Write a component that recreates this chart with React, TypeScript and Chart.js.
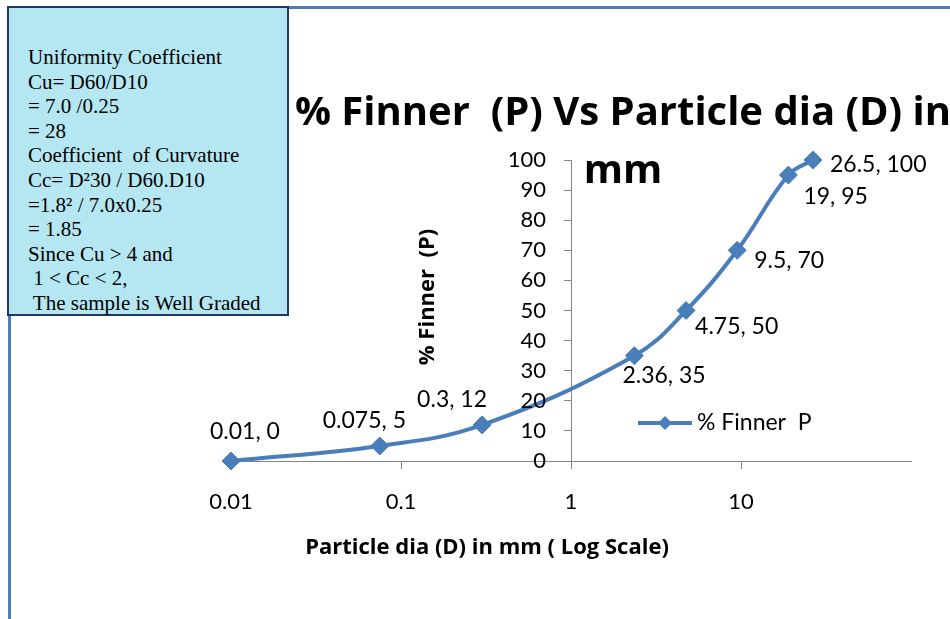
import React, { useEffect, useRef } from "react";
import { Chart, registerables } from "chart.js";

Chart.register(...registerables);

// ---- data ----
const particleDia = [0.01, 0.075, 0.3, 2.36, 4.75, 9.5, 19, 26.5];
const percentFiner = [0, 5, 12, 35, 50, 70, 95, 100];
const xTickValues = [0.01, 0.1, 1, 10];
const yTickStep = 10;
const seriesName = "% Finner  P";
const chartTitleLines = ["% Finner  (P) Vs Particle dia (D) in", "mm"];
const xAxisTitle = "Particle dia (D) in mm ( Log Scale)";
const yAxisTitle = "% Finner  (P)";
const noteLines = [
  "Uniformity Coefficient",
  "Cu= D60/D10",
  "= 7.0 /0.25",
  "= 28",
  "Coefficient  of Curvature",
  "Cc= D\u00b230 / D60.D10",
  "=1.8\u00b2 / 7.0x0.25",
  "= 1.85",
  "Since Cu > 4 and",
  " 1 < Cc < 2,",
  " The sample is Well Graded",
];

// ---- styling ----
const FONT = "Lato, 'Open Sans', sans-serif";
const BOLD_FONT = "'Open Sans', Lato, sans-serif";
const BLUE = "#4a7ebb";
const AXIS_GRAY = "#868686";
// label placement offsets (px) from each point: [dx to left edge, dy to middle]
const labelOffsets = [
  [-21, -29],
  [-57, -25],
  [-65, -25],
  [-12, 20],
  [9, 16],
  [17, 10],
  [15, 22],
  [17, 5],
];

const overlayPlugin = {
  id: "overlay",
  afterDatasetsDraw(chart: any) {
    const ctx = chart.ctx as CanvasRenderingContext2D;
    const meta = chart.getDatasetMeta(0);
    const xs = chart.scales.x;
    const ys = chart.scales.y;
    ctx.save();
    ctx.fillStyle = "#000";
    ctx.textBaseline = "middle";

    // y tick labels (right-aligned, left of the crossing axis)
    ctx.font = `22px ${FONT}`;
    ctx.textAlign = "right";
    const axisX = xs.getPixelForValue(1);
    ys.ticks.forEach((t: any) => {
      ctx.fillText(String(t.value), axisX - 25, ys.getPixelForValue(t.value));
    });

    // data labels
    ctx.font = `23px ${FONT}`;
    ctx.textAlign = "left";
    meta.data.forEach((pt: any, i: number) => {
      const [dx, dy] = labelOffsets[i];
      ctx.fillText(`${particleDia[i]}, ${percentFiner[i]}`, pt.x + dx, pt.y + dy);
    });

    // legend
    const ly = 423;
    ctx.strokeStyle = BLUE;
    ctx.lineWidth = 4;
    ctx.beginPath();
    ctx.moveTo(638, ly);
    ctx.lineTo(692, ly);
    ctx.stroke();
    ctx.fillStyle = BLUE;
    ctx.beginPath();
    ctx.moveTo(665 - 7, ly);
    ctx.lineTo(665, ly - 7);
    ctx.lineTo(665 + 7, ly);
    ctx.lineTo(665, ly + 7);
    ctx.closePath();
    ctx.fill();
    ctx.fillStyle = "#000";
    ctx.fillText(seriesName, 697, ly);

    // chart title
    ctx.font = `bold 40px ${BOLD_FONT}`;
    ctx.textAlign = "center";
    ctx.fillText(chartTitleLines[0], 623, 114);
    ctx.fillText(chartTitleLines[1], 623, 172);

    // axis titles
    ctx.font = `bold 22px ${BOLD_FONT}`;
    ctx.fillText(xAxisTitle, 487, 548);
    ctx.translate(428, 297);
    ctx.rotate(-Math.PI / 2);
    ctx.fillText(yAxisTitle, 0, 0);
    ctx.restore();
  },
};

export default function App() {
  const canvasRef = useRef<HTMLCanvasElement | null>(null);

  useEffect(() => {
    const canvas = canvasRef.current;
    if (!canvas) return;
    const chart = new Chart(canvas, {
      type: "scatter",
      data: {
        datasets: [
          {
            label: seriesName,
            data: particleDia.map((x, i) => ({ x, y: percentFiner[i] })),
            showLine: true,
            borderColor: BLUE,
            backgroundColor: BLUE,
            borderWidth: 4,
            tension: 0.4,
            pointStyle: "rectRot",
            pointRadius: 9,
            pointBorderWidth: 1,
            pointBorderColor: BLUE,
            pointBackgroundColor: BLUE,
            clip: false,
          } as any,
        ],
      },
      options: {
        responsive: false,
        animation: false,
        events: [],
        layout: { padding: { left: 231, right: 39, top: 160, bottom: 158 } },
        plugins: {
          legend: { display: false },
          title: { display: false },
          tooltip: { enabled: false },
        },
        scales: {
          x: {
            type: "logarithmic",
            min: 0.01,
            max: 100,
            position: { y: 0 } as any,
            afterBuildTicks: (scale: any) => {
              scale.ticks = xTickValues.map((v) => ({ value: v }));
            },
            ticks: {
              callback: (v: any) => String(v),
              font: { size: 22, family: FONT },
              color: "#000",
              padding: 21,
              maxRotation: 0,
              autoSkip: false,
            },
            grid: { drawOnChartArea: false, tickLength: 7, color: AXIS_GRAY },
            border: { color: AXIS_GRAY, width: 1 },
          },
          y: {
            type: "linear",
            min: 0,
            max: 100,
            position: { x: 1 } as any,
            ticks: {
              stepSize: yTickStep,
              display: false,
            },
            grid: { drawOnChartArea: false, tickLength: 7, color: AXIS_GRAY },
            border: { color: AXIS_GRAY, width: 1 },
          },
        },
      },
      plugins: [overlayPlugin],
    });
    let alive = true;
    if ((document as any).fonts?.ready) {
      (document as any).fonts.ready.then(() => {
        if (alive) chart.update();
      });
    }
    return () => {
      alive = false;
      chart.destroy();
    };
  }, []);

  return (
    <div
      style={{
        position: "fixed",
        left: 0,
        top: 0,
        width: 950,
        height: 619,
        overflow: "hidden",
        background: "#fff",
      }}
    >
      <div
        style={{
          position: "absolute",
          left: 8,
          top: 6,
          width: 1200,
          height: 900,
          border: `3px solid ${BLUE}`,
          boxSizing: "border-box",
        }}
      />
      <canvas
        ref={canvasRef}
        width={950}
        height={619}
        style={{ position: "absolute", left: 0, top: 0, width: 950, height: 619 }}
      />
      <div
        style={{
          position: "absolute",
          left: 7,
          top: 6,
          width: 282,
          height: 310,
          boxSizing: "border-box",
          background: "#b5e7f3",
          border: "2px solid #1f3864",
          padding: "37px 0 0 19px",
          fontFamily: "'Liberation Serif', 'Times New Roman', serif",
          fontSize: 21,
          lineHeight: "24.6px",
          color: "#000",
          whiteSpace: "pre",
        }}
      >
        {noteLines.map((l, i) => (
          <div key={i}>{l}</div>
        ))}
      </div>
    </div>
  );
}
